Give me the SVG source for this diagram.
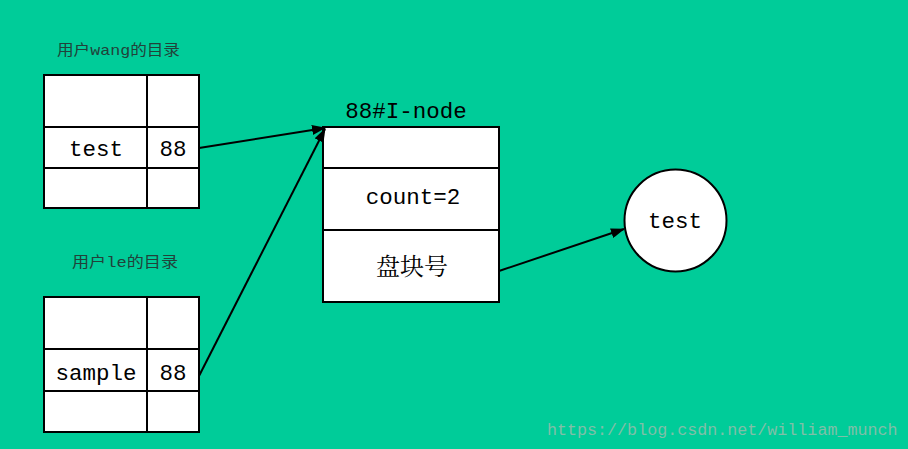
<svg xmlns="http://www.w3.org/2000/svg" width="908" height="449" viewBox="0 0 908 449">
<defs>
<style>
.box{fill:#fff;stroke:#000;stroke-width:2}
.ln{stroke:#000;stroke-width:2;fill:none}
.t{font-family:"Liberation Mono","Noto Sans CJK SC",monospace;font-size:22.5px;fill:#000;text-anchor:middle}
.cjk{font-family:"Noto Serif CJK SC","Noto Sans CJK SC",serif;font-size:24px;fill:#000;text-anchor:middle}
.lbl{font-family:"Liberation Mono","Noto Sans CJK SC",monospace;font-size:15px;fill:#21423a}
.wm{font-family:"Liberation Mono",monospace;font-size:16.7px;fill:#80bfa8}
.conn{stroke:#000;stroke-width:2;fill:none;marker-end:url(#arr)}
</style>
<marker id="arr" viewBox="0 0 14 10" refX="13" refY="5" markerWidth="14" markerHeight="10" markerUnits="userSpaceOnUse" orient="auto">
<path d="M0,0 L14,5 L0,10 z" fill="#000"/>
</marker>
</defs>
<rect x="0" y="0" width="908" height="449" fill="#00cc99"/>

<g id="dir-wang">
<text class="lbl" x="57" y="55" textLength="123" lengthAdjust="spacingAndGlyphs">用户wang的目录</text>
<rect class="box" x="44" y="75" width="155" height="133"/>
<line class="ln" x1="147" y1="75" x2="147" y2="208"/>
<line class="ln" x1="44" y1="127" x2="199" y2="127"/>
<line class="ln" x1="44" y1="168" x2="199" y2="168"/>
<text class="t" x="96" y="156">test</text>
<text class="t" x="173" y="156">88</text>
</g>

<g id="dir-le">
<text class="lbl" x="72" y="267" textLength="106" lengthAdjust="spacingAndGlyphs">用户le的目录</text>
<rect class="box" x="44" y="297" width="155" height="135"/>
<line class="ln" x1="147" y1="297" x2="147" y2="432"/>
<line class="ln" x1="44" y1="349" x2="199" y2="349"/>
<line class="ln" x1="44" y1="391" x2="199" y2="391"/>
<text class="t" x="96" y="380">sample</text>
<text class="t" x="173" y="380">88</text>
</g>

<g id="inode">
<text class="t" x="406" y="118">88#I-node</text>
<rect class="box" x="323" y="127" width="176" height="175"/>
<line class="ln" x1="323" y1="168" x2="499" y2="168"/>
<line class="ln" x1="323" y1="230" x2="499" y2="230"/>
<text class="t" x="413" y="204">count=2</text>
<text class="cjk" x="412" y="275">盘块号</text>
</g>

<g id="file-test">
<circle cx="675.5" cy="220.5" r="51" fill="#fff" stroke="#000" stroke-width="2"/>
<text class="t" x="675" y="228">test</text>
</g>

<g id="connectors">
<line class="conn" x1="199" y1="148" x2="325" y2="128"/>
<line class="conn" x1="199" y1="376" x2="325" y2="129"/>
<line class="conn" x1="499" y1="271" x2="624" y2="229"/>
</g>

<text class="wm" x="547" y="435">https://blog.csdn.net/william_munch</text>
</svg>
